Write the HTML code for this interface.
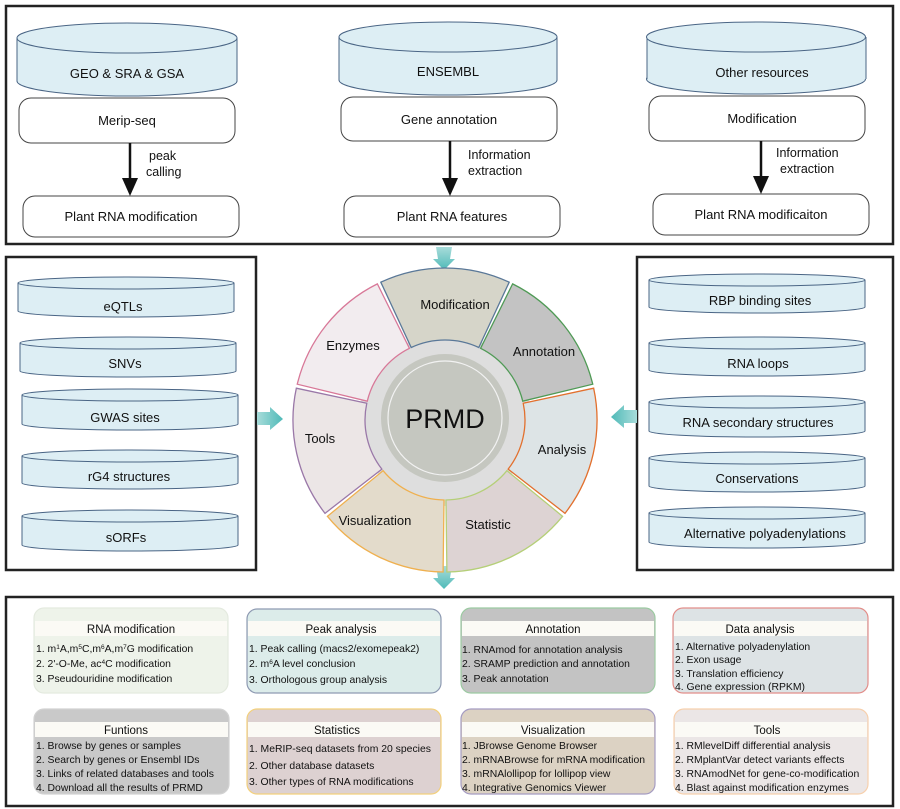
<!DOCTYPE html>
<html><head><meta charset="utf-8"><style>
body{margin:0;background:#fff}
svg{display:block;font-family:"Liberation Sans",Arial,sans-serif}
</style></head><body>
<svg width="900" height="809" viewBox="0 0 900 809" xmlns="http://www.w3.org/2000/svg">
<defs>
<linearGradient id="tg" x1="0" y1="0" x2="0" y2="1"><stop offset="0" stop-color="#a8dcda"/><stop offset="1" stop-color="#4fbab8"/></linearGradient>
<linearGradient id="tgh" x1="0" y1="0" x2="1" y2="0"><stop offset="0" stop-color="#a8dcda"/><stop offset="1" stop-color="#4fbab8"/></linearGradient>
<linearGradient id="tgl" x1="1" y1="0" x2="0" y2="0"><stop offset="0" stop-color="#a8dcda"/><stop offset="1" stop-color="#4fbab8"/></linearGradient>
</defs>
<!-- top box -->
<rect x="6" y="6" width="887" height="238" fill="#fff" stroke="#222" stroke-width="2.5"/>
<g fill="#ddeef4" stroke="#4a6585" stroke-width="1">
<rect x="17" y="38" width="220" height="43" stroke="none"/>
<ellipse cx="127" cy="81" rx="110" ry="15"/>
<rect x="17" y="38" width="220" height="43" stroke="none"/>
<line x1="17" y1="38" x2="17" y2="81"/><line x1="237" y1="38" x2="237" y2="81"/>
<ellipse cx="127" cy="38" rx="110" ry="15"/>
<rect x="339" y="37" width="218" height="43" stroke="none"/>
<ellipse cx="448" cy="80" rx="109" ry="15"/>
<rect x="339" y="37" width="218" height="43" stroke="none"/>
<line x1="339" y1="37" x2="339" y2="80"/><line x1="557" y1="37" x2="557" y2="80"/>
<ellipse cx="448" cy="37" rx="109" ry="15"/>
<rect x="647" y="37" width="219" height="42" stroke="none"/>
<ellipse cx="756" cy="79" rx="109.5" ry="15"/>
<rect x="647" y="37" width="219" height="42" stroke="none"/>
<line x1="647" y1="37" x2="647" y2="79"/><line x1="866" y1="37" x2="866" y2="79"/>
<ellipse cx="756" cy="37" rx="109.5" ry="15"/>
</g>
<g font-size="13" fill="#111" text-anchor="middle">
<text x="127" y="78">GEO &amp; SRA &amp; GSA</text>
<text x="448" y="76">ENSEMBL</text>
<text x="762" y="77">Other resources</text>
</g>
<g fill="#fff" stroke="#444" stroke-width="1">
<rect x="19" y="98" width="216" height="45" rx="12"/>
<rect x="341" y="97" width="216" height="44" rx="12"/>
<rect x="649" y="96" width="216" height="45" rx="12"/>
<rect x="23" y="196" width="216" height="41" rx="12"/>
<rect x="344" y="196" width="216" height="41" rx="12"/>
<rect x="653" y="194" width="216" height="41" rx="12"/>
</g>
<g font-size="13" fill="#111" text-anchor="middle">
<text x="127" y="125">Merip-seq</text>
<text x="449" y="124">Gene annotation</text>
<text x="762" y="123">Modification</text>
<text x="131" y="221">Plant RNA modification</text>
<text x="452" y="221">Plant RNA features</text>
<text x="761" y="219">Plant RNA modificaiton</text>
</g>
<g stroke="#111" stroke-width="2.5"><line x1="130" y1="143" x2="130" y2="180"/><line x1="450" y1="141" x2="450" y2="180"/><line x1="761" y1="141" x2="761" y2="178"/></g>
<g fill="#111"><polygon points="122,178 138,178 130,196"/><polygon points="442,178 458,178 450,196"/><polygon points="753,176 769,176 761,194"/></g>
<g font-size="12.5" fill="#111">
<text x="149" y="160">peak</text><text x="146" y="176">calling</text>
<text x="468" y="159">Information</text><text x="468" y="175">extraction</text>
<text x="776" y="157">Information</text><text x="780" y="173">extraction</text>
</g>

<!-- left box -->
<rect x="6" y="257" width="250" height="313" fill="#fff" stroke="#222" stroke-width="2.5"/>
<g fill="#ddeef4" stroke="#4a6585" stroke-width="1">
<g><ellipse cx="126" cy="311" rx="108" ry="6"/><rect x="18" y="283" width="216" height="28" stroke="none"/><line x1="18" y1="283" x2="18" y2="311"/><line x1="234" y1="283" x2="234" y2="311"/><ellipse cx="126" cy="283" rx="108" ry="6"/></g>
<g><ellipse cx="128" cy="371" rx="108" ry="6"/><rect x="20" y="343" width="216" height="28" stroke="none"/><line x1="20" y1="343" x2="20" y2="371"/><line x1="236" y1="343" x2="236" y2="371"/><ellipse cx="128" cy="343" rx="108" ry="6"/></g>
<g><ellipse cx="130" cy="424" rx="108" ry="6"/><rect x="22" y="395" width="216" height="29" stroke="none"/><line x1="22" y1="395" x2="22" y2="424"/><line x1="238" y1="395" x2="238" y2="424"/><ellipse cx="130" cy="395" rx="108" ry="6"/></g>
<g><ellipse cx="130" cy="483" rx="108" ry="6"/><rect x="22" y="456" width="216" height="27" stroke="none"/><line x1="22" y1="456" x2="22" y2="483"/><line x1="238" y1="456" x2="238" y2="483"/><ellipse cx="130" cy="456" rx="108" ry="6"/></g>
<g><ellipse cx="130" cy="545" rx="108" ry="6"/><rect x="22" y="516" width="216" height="29" stroke="none"/><line x1="22" y1="516" x2="22" y2="545"/><line x1="238" y1="516" x2="238" y2="545"/><ellipse cx="130" cy="516" rx="108" ry="6"/></g>
</g>
<g font-size="13" fill="#111" text-anchor="middle">
<text x="123" y="311">eQTLs</text><text x="125" y="368">SNVs</text><text x="125" y="422">GWAS sites</text><text x="129" y="481">rG4 structures</text><text x="126" y="542">sORFs</text>
</g>

<!-- right box -->
<rect x="637" y="257" width="256" height="313" fill="#fff" stroke="#222" stroke-width="2.5"/>
<g fill="#ddeef4" stroke="#4a6585" stroke-width="1">
<g><ellipse cx="757" cy="307" rx="108" ry="6"/><rect x="649" y="280" width="216" height="27" stroke="none"/><line x1="649" y1="280" x2="649" y2="307"/><line x1="865" y1="280" x2="865" y2="307"/><ellipse cx="757" cy="280" rx="108" ry="6"/></g>
<g><ellipse cx="757" cy="370" rx="108" ry="6"/><rect x="649" y="343" width="216" height="27" stroke="none"/><line x1="649" y1="343" x2="649" y2="370"/><line x1="865" y1="343" x2="865" y2="370"/><ellipse cx="757" cy="343" rx="108" ry="6"/></g>
<g><ellipse cx="757" cy="431" rx="108" ry="6"/><rect x="649" y="402" width="216" height="29" stroke="none"/><line x1="649" y1="402" x2="649" y2="431"/><line x1="865" y1="402" x2="865" y2="431"/><ellipse cx="757" cy="402" rx="108" ry="6"/></g>
<g><ellipse cx="757" cy="486" rx="108" ry="6"/><rect x="649" y="458" width="216" height="28" stroke="none"/><line x1="649" y1="458" x2="649" y2="486"/><line x1="865" y1="458" x2="865" y2="486"/><ellipse cx="757" cy="458" rx="108" ry="6"/></g>
<g><ellipse cx="757" cy="542" rx="108" ry="6"/><rect x="649" y="513" width="216" height="29" stroke="none"/><line x1="649" y1="513" x2="649" y2="542"/><line x1="865" y1="513" x2="865" y2="542"/><ellipse cx="757" cy="513" rx="108" ry="6"/></g>
</g>
<g font-size="13" fill="#111" text-anchor="middle">
<text x="760" y="305">RBP binding sites</text><text x="758" y="368">RNA loops</text><text x="758" y="427">RNA secondary structures</text><text x="757" y="483">Conservations</text><text x="765" y="538">Alternative polyadenylations</text>
</g>

<!-- teal arrows -->
<polygon points="436,247 452,247 450,259 455,259 444,270 433,259 438,259" fill="url(#tg)"/>
<polygon points="436,566 452,566 450,578 455,578 444,589 433,578 438,578" fill="url(#tg)"/>
<polygon points="257,412 270,412 270,407 283,419 270,430 270,425 257,425" fill="url(#tgh)"/>
<polygon points="637,410 624,410 624,405 611,417 624,428 624,423 637,423" fill="url(#tgl)"/>

<!-- wheel -->
<circle cx="445" cy="420" r="86" fill="#dedede"/>
<g stroke-width="1.3">
<path d="M380.8,282.2 A152,152 0 0 1 509.2,282.2 L478.8,347.5 A80,80 0 0 0 411.2,347.5 Z" fill="#d6d5c9" stroke="#5a7898"/>
<path transform="rotate(51.4 445 420)" d="M380.8,282.2 A152,152 0 0 1 509.2,282.2 L478.8,347.5 A80,80 0 0 0 411.2,347.5 Z" fill="#c3c3c3" stroke="#4f9a55"/>
<path transform="rotate(102.9 445 420)" d="M380.8,282.2 A152,152 0 0 1 509.2,282.2 L478.8,347.5 A80,80 0 0 0 411.2,347.5 Z" fill="#dde4e6" stroke="#e2702e"/>
<path transform="rotate(154.3 445 420)" d="M380.8,282.2 A152,152 0 0 1 509.2,282.2 L478.8,347.5 A80,80 0 0 0 411.2,347.5 Z" fill="#ddd3d3" stroke="#b5cf78"/>
<path transform="rotate(205.7 445 420)" d="M380.8,282.2 A152,152 0 0 1 509.2,282.2 L478.8,347.5 A80,80 0 0 0 411.2,347.5 Z" fill="#e3dbcb" stroke="#efb04f"/>
<path transform="rotate(257.1 445 420)" d="M380.8,282.2 A152,152 0 0 1 509.2,282.2 L478.8,347.5 A80,80 0 0 0 411.2,347.5 Z" fill="#ece6e6" stroke="#9a78a8"/>
<path transform="rotate(308.6 445 420)" d="M380.8,282.2 A152,152 0 0 1 509.2,282.2 L478.8,347.5 A80,80 0 0 0 411.2,347.5 Z" fill="#f2ecef" stroke="#d87898"/>
</g>
<circle cx="445" cy="418" r="64" fill="#c5c7c0"/>
<circle cx="445" cy="418" r="57" fill="none" stroke="#f2f2f2" stroke-width="1.2"/>
<text x="445" y="428" font-size="27" text-anchor="middle" fill="#111">PRMD</text>
<g font-size="13" fill="#111" text-anchor="middle">
<text x="455" y="309">Modification</text>
<text x="544" y="356">Annotation</text>
<text x="562" y="454">Analysis</text>
<text x="488" y="529">Statistic</text>
<text x="375" y="525">Visualization</text>
<text x="320" y="443">Tools</text>
<text x="353" y="350">Enzymes</text>
</g>

<!-- bottom box -->
<rect x="6" y="597" width="887" height="209" fill="#fff" stroke="#222" stroke-width="2.5"/>
<g stroke-width="1.2">
<rect x="34" y="608" width="194" height="85" rx="10" fill="#eef3ea" stroke="#e4eadf"/>
<rect x="247" y="609" width="194" height="84" rx="10" fill="#dcecea" stroke="#8e9ab2"/>
<rect x="461" y="608" width="194" height="85" rx="10" fill="#c3c3c3" stroke="#9ccaa2"/>
<rect x="673" y="608" width="195" height="85" rx="10" fill="#dde3e5" stroke="#e28e8a"/>
<rect x="34" y="709" width="195" height="85" rx="10" fill="#c9c9c9" stroke="#d2d2d2"/>
<rect x="247" y="709" width="194" height="85" rx="10" fill="#ddd1d1" stroke="#f3d07c"/>
<rect x="461" y="709" width="194" height="85" rx="10" fill="#dcd2c3" stroke="#a59cc2"/>
<rect x="674" y="709" width="194" height="85" rx="10" fill="#ebe6e6" stroke="#f7d0ad"/>
</g>
<g fill="#fbfaf5">
<rect x="35" y="621" width="192" height="15"/>
<rect x="248" y="621" width="192" height="15"/>
<rect x="462" y="621" width="192" height="15"/>
<rect x="674" y="621" width="193" height="15"/>
<rect x="35" y="722" width="193" height="15"/>
<rect x="248" y="722" width="192" height="15"/>
<rect x="462" y="722" width="192" height="15"/>
<rect x="675" y="722" width="192" height="15"/>
</g>
<g font-size="11.5" fill="#111" text-anchor="middle">
<text x="131" y="633">RNA modification</text>
<text x="341" y="633">Peak analysis</text>
<text x="553" y="633">Annotation</text>
<text x="760" y="633">Data analysis</text>
<text x="126" y="734">Funtions</text>
<text x="337" y="734">Statistics</text>
<text x="553" y="734">Visualization</text>
<text x="767" y="734">Tools</text>
</g>
<g font-size="10.4" fill="#111">
<text x="36" y="652">1. m<tspan font-size="6.5" dy="-3">1</tspan><tspan dy="3">A,m</tspan><tspan font-size="6.5" dy="-3">5</tspan><tspan dy="3">C,m</tspan><tspan font-size="6.5" dy="-3">6</tspan><tspan dy="3">A,m</tspan><tspan font-size="6.5" dy="-3">7</tspan><tspan dy="3">G modification</tspan></text>
<text x="36" y="667">2. 2'-O-Me, ac<tspan font-size="6.5" dy="-3">4</tspan><tspan dy="3">C modification</tspan></text>
<text x="36" y="682">3. Pseudouridine modification</text>
<text x="249" y="652">1. Peak calling (macs2/exomepeak2)</text>
<text x="249" y="667">2. m<tspan font-size="6.5" dy="-3">6</tspan><tspan dy="3">A level conclusion</tspan></text>
<text x="249" y="683">3. Orthologous group analysis</text>
<text x="462" y="653">1. RNAmod for annotation analysis</text>
<text x="462" y="667">2. SRAMP prediction and annotation</text>
<text x="462" y="682">3. Peak annotation</text>
<text x="675" y="650">1. Alternative polyadenylation</text>
<text x="675" y="663">2. Exon usage</text>
<text x="675" y="677">3. Translation efficiency</text>
<text x="675" y="690">4. Gene expression (RPKM)</text>
<text x="36" y="749">1. Browse by genes or samples</text>
<text x="36" y="763">2. Search by genes or Ensembl IDs</text>
<text x="36" y="777">3. Links of related databases and tools</text>
<text x="36" y="791">4. Download all the results of PRMD</text>
<text x="249" y="752">1. MeRIP-seq datasets from 20 species</text>
<text x="249" y="769">2. Other database datasets</text>
<text x="249" y="785">3. Other types of RNA modifications</text>
<text x="462" y="749">1. JBrowse Genome Browser</text>
<text x="462" y="763">2. mRNABrowse for mRNA modification</text>
<text x="462" y="777">3. mRNAlollipop for lollipop view</text>
<text x="462" y="791">4. Integrative Genomics Viewer</text>
<text x="675" y="749">1. RMlevelDiff differential analysis</text>
<text x="675" y="763">2. RMplantVar detect variants effects</text>
<text x="675" y="777">3. RNAmodNet for gene-co-modification</text>
<text x="675" y="791">4. Blast against modification enzymes</text>
</g>
</svg>
</body></html>
